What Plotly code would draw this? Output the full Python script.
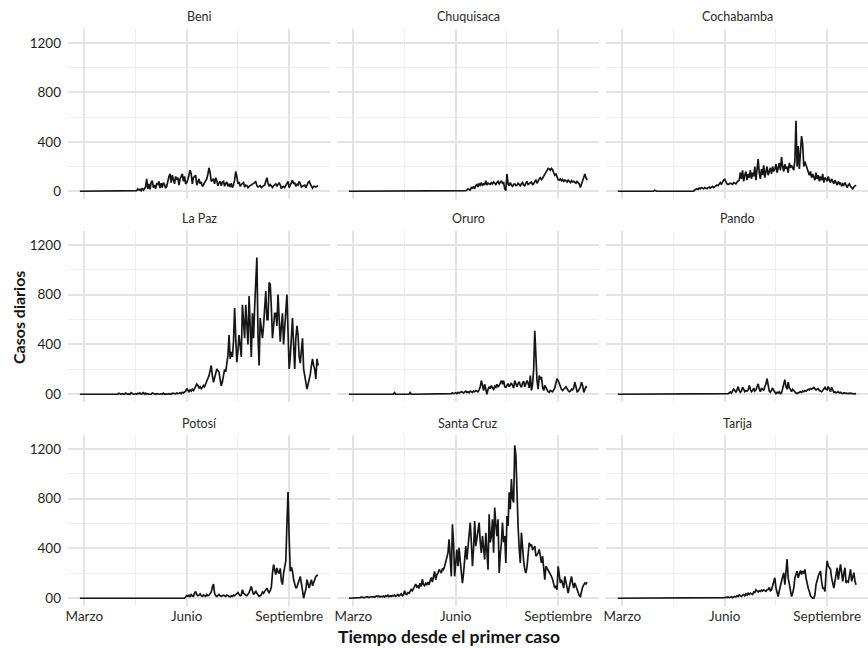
import pandas as pd
import plotly.graph_objects as go

# ---------------- data (daily cases) ----------------
START_DATE = "2020-02-26"

DEPARTMENTS = ["Beni", "Chuquisaca", "Cochabamba",
               "La Paz", "Oruro", "Pando",
               "Potosí", "Santa Cruz", "Tarija"]

BENI = [
    0, 0, 0, 0, 0, 0, 0, 0, 0, 0,
    0, 0, 0, 0, 0, 0, 0, 0, 0, 0,
    0, 0, 0, 0, 0, 0, 0, 0, 0, 0,
    0, 0, 0, 0, 0, 0, 0, 0, 0, 0,
    0, 0, 0, 0, 0, 0, 0, 0, 0, 0,
    0,
    5, 20, 10, 15, 5, 25, 10, 20, 35,
    100, 20, 60, 15, 70, 85, 30, 50, 20, 60,
    55, 80, 25, 65, 30, 70, 55, 25, 40, 90,
    120, 140, 70, 130, 100, 60, 120, 95, 110, 50,
    100, 125, 140, 80, 120, 60, 70, 95, 130, 170,
    140, 60, 110, 120, 130, 50, 85, 100, 60, 75,
    40, 50, 70, 85, 100, 140, 190, 150, 80, 90,
    100, 60, 110, 85, 45, 70, 80, 45, 75, 80,
    40, 65, 75, 40, 60, 35, 65, 30, 50, 90,
    160, 120, 60, 75, 40, 55, 65, 70, 35, 50,
    45, 30, 40, 45, 55, 60, 65, 70, 80, 45,
    35, 40, 45, 30, 40, 45, 50, 80, 110, 65,
    40, 55, 45, 30, 45, 55, 60, 40, 55, 70,
    50, 20, 35, 40, 30, 50, 65, 80, 30, 50,
    70, 90, 60, 70, 40, 55, 50, 80, 60, 35,
    40, 45, 50, 30, 60, 70, 80, 50, 40, 25,
    40, 40, 35, 40, 45,
]

CHUQUISACA = [
    0, 0, 0, 0, 0, 0, 0, 0, 0, 0,
    0, 0, 0, 0, 0, 0, 0, 0, 0, 0,
    0, 0, 0, 0, 0, 0, 0, 0, 0, 0,
    0, 0, 0, 0, 0, 0, 5, 0, 0, 0,
    0, 0, 0, 0, 0, 0, 0, 0, 0, 0,
    0, 0, 0, 0, 0, 0, 0, 0, 3, 0,
    0, 0, 0, 0, 0, 0, 0, 0, 0, 0,
    0, 0, 0, 0, 0, 0, 0, 0, 0, 0,
    0, 0, 0, 0, 0, 0, 0, 0, 0, 0,
    0, 0, 0, 0, 0, 0, 0, 0, 0, 0,
    0, 0, 0, 0, 0,
    5, 10, 20, 15, 10, 30, 25, 40, 20, 45,
    55, 35, 60, 50, 70, 45, 60, 55, 85, 50,
    65, 60, 55, 70, 60, 75, 65, 55, 70, 80,
    60, 75, 85, 65, 70, 20, 5, 140, 60, 45,
    70, 50, 40, 55, 60, 45, 50, 65, 55, 45,
    60, 70, 50, 45, 65, 80, 55, 60, 70, 75,
    55, 60, 80, 90, 65, 85, 100, 110, 95, 105,
    120, 140, 160, 175, 185, 180, 170, 185, 175, 150,
    130, 140, 110, 95, 90, 100, 85, 95, 80, 90,
    85, 75, 90, 80, 70, 85, 75, 80, 70, 65,
    80, 70, 60, 30, 55, 75, 100, 140, 110, 90,
]

COCHABAMBA = [
    0, 0, 0, 0, 0, 0, 0, 0, 0, 0,
    0, 0, 0, 0, 0, 0, 0, 0, 0, 0,
    5, 0, 0, 0, 0, 0, 0, 0, 0, 0,
    0, 0, 0, 8, 0, 0, 0, 0, 0, 0,
    0, 0, 0, 0, 0, 0, 0, 0, 0, 0,
    0, 0, 6, 0, 0, 0, 0, 0, 0, 0,
    0, 0, 0, 0, 0, 0, 0, 0, 0,
    10, 15, 20, 15, 25, 20, 30, 25, 20, 30,
    25, 20, 30, 35, 25, 30, 40, 30, 35, 45,
    50, 45, 60, 70, 55, 80, 90, 97, 70, 60,
    55, 60, 65, 60, 55, 70, 65, 60, 75, 80,
    90, 150, 100, 170, 80, 130, 160, 90, 140, 110,
    170, 100, 150, 120, 200, 90, 180, 260, 150, 100,
    180, 130, 210, 110, 160, 200, 130, 170, 190, 140,
    200, 160, 180, 220, 150, 190, 230, 170, 276, 200,
    160, 220, 180, 200, 150, 230, 190, 210, 180, 170,
    250, 570, 200, 365, 180, 300, 447, 380, 200, 240,
    212, 170, 150, 130, 160, 110, 140, 120, 90, 150,
    100, 130, 80, 120, 90, 140, 70, 110, 100, 80,
    120, 90, 70, 100, 80, 60, 90, 70, 50, 80,
    60, 70, 40, 60, 50, 70, 40, 30, 50, 60,
    40, 30, 20, 35, 45, 50,
]

LA_PAZ = [
    0, 0, 0, 0, 0, 0, 0, 0, 0, 0,
    0, 0, 0, 0, 0, 0, 0, 0, 0, 0,
    0, 0, 0, 0, 0, 0, 0, 0, 0, 0,
    0, 5, 0, 3, 0, 8, 0, 0, 5, 0,
    0, 10, 5, 0, 3, 0, 12, 5, 0, 0,
    5, 0, 8, 3, 10, 0, 5, 12, 0, 8,
    0, 5, 0, 3, 0, 10, 5, 0, 0, 5,
    3, 0, 0, 5, 0, 8, 0, 3, 0, 0,
    5, 3, 0, 8, 5, 0, 3, 10, 5, 8,
    12, 5, 15, 10, 20, 25,
    46, 30, 20, 35, 25, 40, 30, 45, 60, 82,
    70, 50, 60, 45, 55, 70, 60, 80, 100, 120,
    150, 190, 231, 150, 95, 130, 170, 204, 190, 177,
    120, 68, 100, 160, 200, 180, 231, 313, 476, 285,
    340, 300, 422, 694, 450, 258, 350, 476, 390, 300,
    720, 558, 450, 720, 600, 400, 789, 500, 300, 650,
    450, 700, 900, 1100, 476, 231, 612, 500, 450, 550,
    700, 830, 600, 600, 898, 884, 700, 450, 550, 650,
    650, 550, 802, 600, 422, 550, 650, 400, 550, 650,
    802, 500, 204, 300, 500, 612, 400, 204, 450, 550,
    476, 300, 250, 400, 450, 204, 150, 68, 41, 80,
    120, 160, 231, 285, 231, 200, 122, 285, 231,
]

ORURO = [
    0, 0, 0, 0, 0, 0, 0, 0, 0, 0,
    0, 0, 0, 0, 0, 0, 0, 0, 0, 0,
    0, 0, 0, 0, 0, 0, 0, 0, 0, 0,
    0, 0, 0, 0, 0, 0, 0, 0, 0, 0,
    0, 14, 0, 0, 0, 0, 0, 0, 0, 0,
    0, 0, 0, 0, 0, 14, 0, 0, 0, 0,
    0, 0, 0, 0, 0, 0, 0, 0, 0, 0,
    0, 0, 0, 0, 0, 0, 0, 0, 0, 0,
    0, 0, 0, 0, 0, 0, 0, 0, 0, 0,
    0, 0, 5,
    10, 5, 8, 12, 5, 15, 10, 12, 20, 15,
    10, 18, 25, 15, 20, 12, 25, 20, 15, 25,
    20, 30, 25, 20, 35, 60, 110, 60, 30, 80,
    50, 0, 40, 60, 45, 70, 50, 40, 65, 55,
    80, 60, 70, 90, 110, 80, 110, 60, 55, 70,
    85, 60, 75, 90, 70, 50, 110, 80, 60, 85,
    100, 70, 55, 90, 105, 60, 80, 110, 90, 50,
    150, 30, 80, 200, 510, 300, 110, 40, 150, 120,
    140, 60, 30, 70, 50, 30, 20, 15, 30, 25,
    20, 35, 50, 90, 124, 110, 80, 60, 40, 30,
    45, 50, 60, 40, 30, 20, 25, 40, 35, 50,
    97, 60, 20, 25, 40, 60, 97, 70, 15, 40,
    60, 55,
]

PANDO = [
    0, 0, 0, 0, 0, 0, 0, 0, 0, 0,
    0, 0, 0, 0, 0, 0, 0, 0, 0, 0,
    0, 0, 0, 0, 0, 0, 0, 0, 0, 0,
    0, 0, 0, 0, 0, 0, 0, 0, 0, 0,
    0, 0, 0, 0, 0, 0, 0, 0, 0, 0,
    0, 0, 0, 0, 0, 0, 0, 0, 0, 0,
    0, 0, 0, 0, 0, 0, 0, 0, 0, 0,
    0, 0, 0, 0, 0, 0, 0, 0, 0, 0,
    0, 0, 0, 0, 0, 0, 0, 0, 0, 0,
    0, 0, 0, 0, 0, 0, 0, 0, 0,
    5, 10, 19, 10, 25, 42, 30, 15, 35, 61,
    30, 15, 25, 56, 40, 20, 30, 25, 35, 70,
    40, 20, 30, 50, 25, 35, 60, 83, 40, 20,
    50, 40, 30, 60, 83, 125, 60, 25, 15, 30,
    50, 30, 15, 5, 15, 10, 20, 5, 10, 40,
    70, 117, 60, 40, 97, 50, 40, 20, 40, 30,
    15, 10, 5, 10, 15, 20, 15, 25, 20, 30,
    25, 30, 40, 35, 45, 40, 50, 55, 45, 35,
    40, 45, 30, 25, 20, 30, 45, 55, 40, 35,
    61, 30, 20, 56, 30, 15, 20, 10, 15, 20,
    10, 15, 8, 5, 10, 8, 5, 3, 5, 8,
    5, 8, 5, 3, 5, 5,
]

POTOSI = [
    0, 0, 0, 0, 0, 0, 0, 0, 0, 0,
    0, 0, 0, 0, 0, 0, 0, 0, 0, 0,
    0, 0, 0, 0, 0, 0, 0, 0, 0, 0,
    0, 0, 0, 0, 0, 0, 0, 0, 0, 0,
    0, 0, 0, 0, 0, 0, 0, 0, 0, 0,
    0, 0, 0, 5, 0, 0, 0, 0, 0, 0,
    0, 0, 0, 0, 5, 0, 0, 0, 0, 0,
    0, 0, 0, 0, 0, 0, 0, 0, 0, 0,
    0, 0, 0, 0, 0, 0, 0, 0, 0, 0,
    0, 0, 0, 0, 0,
    10, 22, 15, 25, 10, 30, 20, 15, 40, 54,
    30, 20, 25, 35, 20, 15, 25, 20, 15, 30,
    20, 25, 35, 50, 90, 114, 40, 20, 15, 25,
    30, 20, 15, 20, 25, 20, 15, 25, 20, 15,
    10, 20, 15, 25, 20, 30, 40, 45, 30, 20,
    25, 68, 40, 30, 25, 20, 30, 45, 70, 95,
    60, 30, 40, 60, 40, 25, 15, 20, 30, 50,
    40, 55, 70, 81, 60, 45, 60, 90, 200, 271,
    230, 190, 244, 210, 200, 240, 140, 110, 200, 240,
    300, 596, 854, 488, 217, 250, 217, 150, 108, 81,
    90, 122, 163, 175, 120, 30, 0, 40, 70, 149,
    110, 81, 120, 149, 100, 130, 160, 175, 184, 184,
]

SANTA_CRUZ = [
    0, 0, 1, 2, 3, 2, 4, 5, 3, 6,
    5, 8, 6, 10, 5, 8, 12, 9, 6, 10,
    10, 15, 12, 8, 15, 20, 12, 18, 10, 15,
    12, 18, 10, 20, 15, 25, 12, 20, 15, 22,
    18, 25, 15, 20, 30, 18, 25, 35, 20, 28,
    60, 35, 30, 45, 40, 55, 70, 60, 80, 100,
    113, 90, 100, 80, 120, 95, 154, 110, 100, 120,
    110, 130, 108, 140, 167, 130, 180, 216, 149, 190,
    200, 230, 220, 203, 240, 230, 257, 300, 330, 365,
    473, 350, 176, 594, 446, 176, 300, 392, 257, 405,
    300, 230, 122, 200, 284, 419, 311, 400, 527, 608,
    450, 257, 400, 621, 419, 480, 554, 608, 450, 365,
    500, 400, 311, 527, 400, 230, 675, 450, 500, 635,
    365, 729, 594, 500, 635, 203, 350, 446, 608, 450,
    500, 284, 662, 581, 851, 716, 959, 800, 770, 1229,
    1148, 770, 581, 400, 284, 527, 365, 300, 230, 203,
    250, 338, 446, 420, 432, 392, 400, 419, 338, 350,
    365, 392, 330, 284, 338, 250, 149, 257, 240, 230,
    216, 200, 176, 150, 122, 81, 100, 68, 257, 180,
    122, 149, 110, 81, 176, 120, 68, 41, 90, 122,
    176, 120, 81, 122, 95, 70, 41, 20, 14, 68,
    90, 108, 122, 115, 130,
]

TARIJA = [
    0, 0, 0, 0, 0, 0, 0, 0, 0, 0,
    0, 0, 0, 0, 0, 0, 0, 0, 0, 0,
    0, 0, 0, 0, 0, 0, 0, 0, 0, 0,
    0, 0, 0, 0, 0, 0, 0, 0, 0, 0,
    0, 0, 0, 0, 0, 0, 0, 0, 0, 0,
    0, 0, 0, 0, 0, 0, 0, 0, 0, 0,
    0, 0, 0, 0, 0, 0, 0, 0, 0, 0,
    0, 0, 0, 0, 0, 0, 0, 0, 0, 0,
    0, 0, 0, 0, 0, 0, 0, 0, 0, 0,
    0, 0, 0, 0, 0,
    3, 5, 8, 5, 10, 5, 8, 12, 5, 10,
    15, 10, 20, 15, 27, 20, 15, 25, 30, 20,
    35, 25, 40, 30, 41, 35, 30, 50, 45, 68,
    55, 50, 60, 55, 65, 58, 68, 60, 55, 68,
    70, 87, 60, 68, 100, 136, 164, 82, 40, 14,
    60, 109, 136, 170, 205, 109, 250, 314, 164, 100,
    55, 14, 40, 82, 164, 190, 218, 164, 200, 224,
    191, 218, 200, 232, 164, 109, 80, 55, 20, 10,
    0, 0, 27, 109, 150, 177, 200, 218, 136, 82,
    82, 55, 200, 300, 259, 240, 232, 164, 120, 82,
    136, 200, 245, 150, 200, 273, 205, 136, 200, 245,
    123, 136, 130, 180, 232, 136, 170, 205, 136, 109,
]

SERIES = [BENI, CHUQUISACA, COCHABAMBA, LA_PAZ, ORURO, PANDO,
          POTOSI, SANTA_CRUZ, TARIJA]

X_TICK_DATES = ["2020-03-01", "2020-06-01", "2020-09-01"]
X_TICK_LABELS = ["Marzo", "Junio", "Septiembre"]
X_MINOR_DATES = ["2020-04-16", "2020-07-17"]

Y_TICKS = [0, 400, 800, 1200]
Y_TICK_LABELS_TOP = ["0", "400", "800", "1200"]
Y_TICK_LABELS_OTHER = ["00", "400", "800", "1200"]
Y_MINOR = [200, 600, 1000]

# ---------------- layout geometry ----------------
W, H = 868, 648
ML, MR, MT, MB = 68, 0, 29, 42
PW, PH = W - ML - MR, H - MT - MB
COLS_PX = [(0, 262), (269, 531), (538, 800)]
ROWS_PX = [(0, 170), (202, 373), (406, 577)]

FONT = "Lato, 'Open Sans', sans-serif"
MAJOR_GRID = "#e4e4e4"
MINOR_GRID = "#eeeeee"

start = pd.Timestamp(START_DATE)
x_range = [str(start - pd.Timedelta(days=10.7)), str(start + pd.Timedelta(days=224.7))]

fig = go.Figure()
annotations = []

for i, (name, vals) in enumerate(zip(DEPARTMENTS, SERIES)):
    r, c = divmod(i, 3)
    k = i + 1
    xs = "" if k == 1 else str(k)
    dates = pd.date_range(start, periods=len(vals), freq="D")
    fig.add_trace(go.Scatter(
        x=dates, y=vals, mode="lines",
        line=dict(color="#161616", width=1.7),
        xaxis="x" + xs, yaxis="y" + xs,
        showlegend=False, hoverinfo="skip",
    ))
    c0, c1 = COLS_PX[c]
    r0, r1 = ROWS_PX[r]
    xdom = [c0 / PW, c1 / PW]
    ydom = [1 - r1 / PH, 1 - r0 / PH]
    fig.layout["xaxis" + xs] = dict(
        domain=xdom, anchor="y" + xs, type="date", range=x_range,
        tickmode="array", tickvals=X_TICK_DATES, ticktext=X_TICK_LABELS,
        showticklabels=(r == 2), ticks="",
        tickfont=dict(family=FONT, size=13.5, color="#2b2b2b"),
        showgrid=True, gridcolor=MAJOR_GRID, gridwidth=2,
        minor=dict(tickmode="array", tickvals=X_MINOR_DATES, showgrid=True,
                   gridcolor=MINOR_GRID, gridwidth=1.3, ticks=""),
        zeroline=False, showline=False, fixedrange=True,
    )
    fig.layout["yaxis" + xs] = dict(
        domain=ydom, anchor="x" + xs, range=[-62.5, 1312.5],
        tickmode="array", tickvals=Y_TICKS,
        ticktext=(Y_TICK_LABELS_TOP if r == 0 else Y_TICK_LABELS_OTHER),
        showticklabels=(c == 0), ticks="", ticklabelstandoff=6,
        tickfont=dict(family=FONT, size=13.5, color="#1e1e1e"),
        showgrid=True, gridcolor=MAJOR_GRID, gridwidth=2,
        minor=dict(tickmode="array", tickvals=Y_MINOR, showgrid=True,
                   gridcolor=MINOR_GRID, gridwidth=1.3, ticks=""),
        zeroline=False, showline=False, fixedrange=True,
    )
    annotations.append(dict(
        text=name, xref="paper", yref="paper",
        x=(xdom[0] + xdom[1]) / 2, y=ydom[1] + 12 / PH,
        xanchor="center", yanchor="middle", showarrow=False,
        font=dict(family=FONT, size=12.5, color="#2b2b2b"),
    ))

annotations.append(dict(
    text="Tiempo desde el primer caso", xref="paper", yref="paper",
    x=(449 - ML) / PW, y=(PH + MT - 636) / PH,
    xanchor="center", yanchor="middle", showarrow=False,
    font=dict(family=FONT, size=17.5, color="#141414", weight="bold"),
))
annotations.append(dict(
    text="Casos diarios", xref="paper", yref="paper",
    x=(18 - ML) / PW, y=(PH + MT - 318) / PH, textangle=-90,
    xanchor="center", yanchor="middle", showarrow=False,
    font=dict(family=FONT, size=16, color="#141414", weight="bold"),
))

fig.update_layout(
    width=W, height=H,
    margin=dict(l=ML, r=MR, t=MT, b=MB, pad=0),
    paper_bgcolor="white", plot_bgcolor="white",
    annotations=annotations,
    font=dict(family=FONT),
)

fig.write_html("out.html", config={"displayModeBar": False})
